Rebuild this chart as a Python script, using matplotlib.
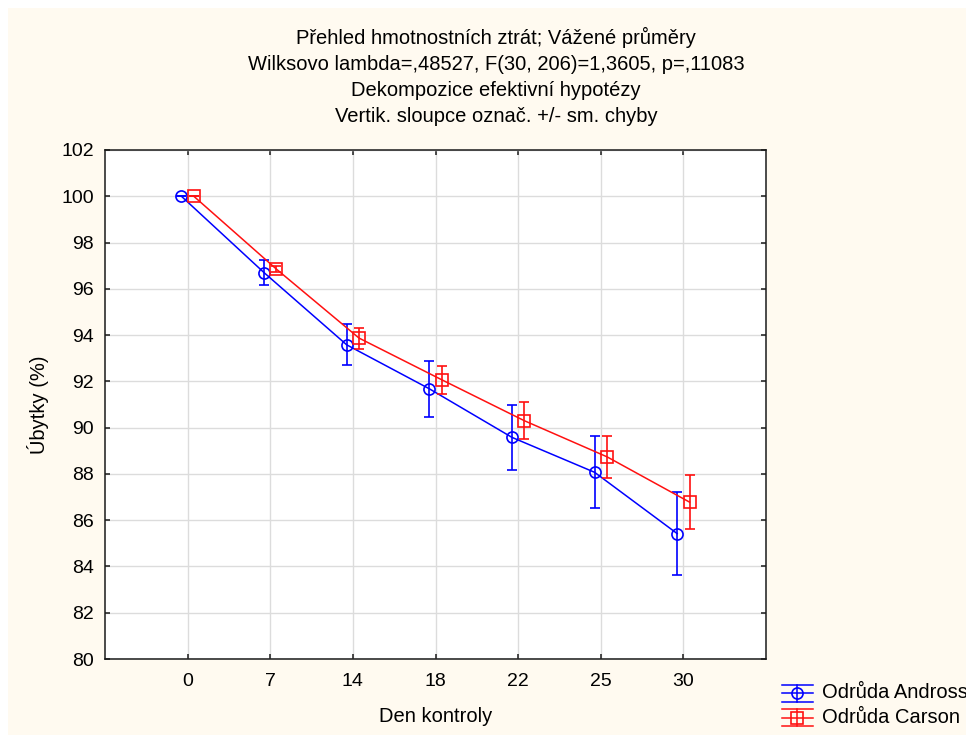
import matplotlib
matplotlib.use("Agg")
import matplotlib.pyplot as plt
import numpy as np
from matplotlib.patches import Rectangle
from matplotlib.lines import Line2D

plt.rcParams['font.family'] = ['Liberation Sans', 'DejaVu Sans']

# ---- data ----
days = ['0', '7', '14', '18', '22', '25', '30']
andross_mean = [100.0, 96.70, 93.58, 91.68, 89.58, 88.07, 85.42]
andross_se = [0.0, 0.53, 0.89, 1.20, 1.39, 1.56, 1.79]
carson_mean = [100.0, 96.85, 93.87, 92.07, 90.30, 88.74, 86.78]
carson_se = [0.0, 0.12, 0.45, 0.61, 0.80, 0.90, 1.16]
series_names = ['Odrůda Andross', 'Odrůda Carson']
y_ticks = [80, 82, 84, 86, 88, 90, 92, 94, 96, 98, 100, 102]
title_lines = [
    'Přehled hmotnostních ztrát; Vážené průměry',
    'Wilksovo lambda=,48527, F(30, 206)=1,3605, p=,11083',
    'Dekompozice efektivní hypotézy',
    'Vertik. sloupce označ. +/- sm. chyby',
]

W, H = 966, 735
fig = plt.figure(figsize=(W / 100, H / 100), dpi=100, facecolor='white')
cream = '#fffaf0'
fig.patches.append(Rectangle((8 / W, 0), 1, 1 - 8 / H, transform=fig.transFigure,
                             facecolor=cream, edgecolor='none', zorder=-10))

# axes box in pixels: x 105..766, y 150..659
ax = fig.add_axes([105 / W, 1 - 659 / H, (766 - 105) / W, (659 - 150) / H])
ax.set_facecolor('white')

x = np.arange(len(days))
off = 0.075
blue = '#0000ff'
red = '#ff1010'
ax.errorbar(x - off, andross_mean, yerr=andross_se, color=blue, lw=1.1,
            marker='o', ms=8, mfc='none', mec=blue, mew=1.2,
            capsize=3.3, capthick=1.2, elinewidth=1.2, zorder=3)
ax.errorbar(x + off, carson_mean, yerr=carson_se, color=red, lw=1.1,
            marker='s', ms=8, mfc='none', mec=red, mew=1.2,
            capsize=3.3, capthick=1.2, elinewidth=1.2, zorder=4)

ax.set_xlim(-1, 7)
ax.set_ylim(80, 102)
ax.set_xticks(x)
ax.set_xticklabels(days)
ax.set_yticks(y_ticks)
ax.grid(True, color='#dcdcdc', lw=1.0, zorder=0)
ax.set_axisbelow(True)
for s in ax.spines.values():
    s.set_linewidth(1.1)
    s.set_color('#1a1a1a')
ax.tick_params(axis='both', direction='in', length=3.5, width=1.1,
               top=True, right=True, labelsize=14, colors='#1a1a1a',
               labelcolor='black')
ax.tick_params(axis='x', pad=10)
ax.tick_params(axis='y', pad=8)

ax.set_xlabel('Den kontroly', fontsize=14.5)
ax.xaxis.set_label_coords(0.5, -(717 - 659) / (659 - 150))
ax.xaxis.label.set_va('center')
ax.set_ylabel('Úbytky (%)', fontsize=14.5)
ax.yaxis.set_label_coords(-(105 - 38) / (766 - 105), 0.5)
ax.yaxis.label.set_va('center')

for i, (t, yy) in enumerate(zip(title_lines, [37, 64, 91, 117])):
    fig.text(496 / W, 1 - yy / H, t, ha='center', va='center', fontsize=14.5)

# legend drawn in figure pixel space
lax = fig.add_axes([0, 0, 1, 1], facecolor='none')
lax.set_xlim(0, W)
lax.set_ylim(H, 0)
lax.axis('off')
for name, col, mk, yc in [(series_names[0], blue, 'o', 693), (series_names[1], red, 's', 717.5)]:
    for dy in (-8.5, 0, 8.5):
        lax.add_line(Line2D([782, 813], [yc + dy, yc + dy], color=col, lw=1.1))
    lax.add_line(Line2D([797, 797], [yc - 8.5, yc + 8.5], color=col, lw=1.1))
    lax.plot([797], [yc], marker=mk, ms=8, mfc='none', mec=col, mew=1.2)
    lax.text(822, yc, name, ha='left', va='center', fontsize=14.5, clip_on=False)

fig.savefig('out.png', dpi=100, facecolor=fig.get_facecolor())
